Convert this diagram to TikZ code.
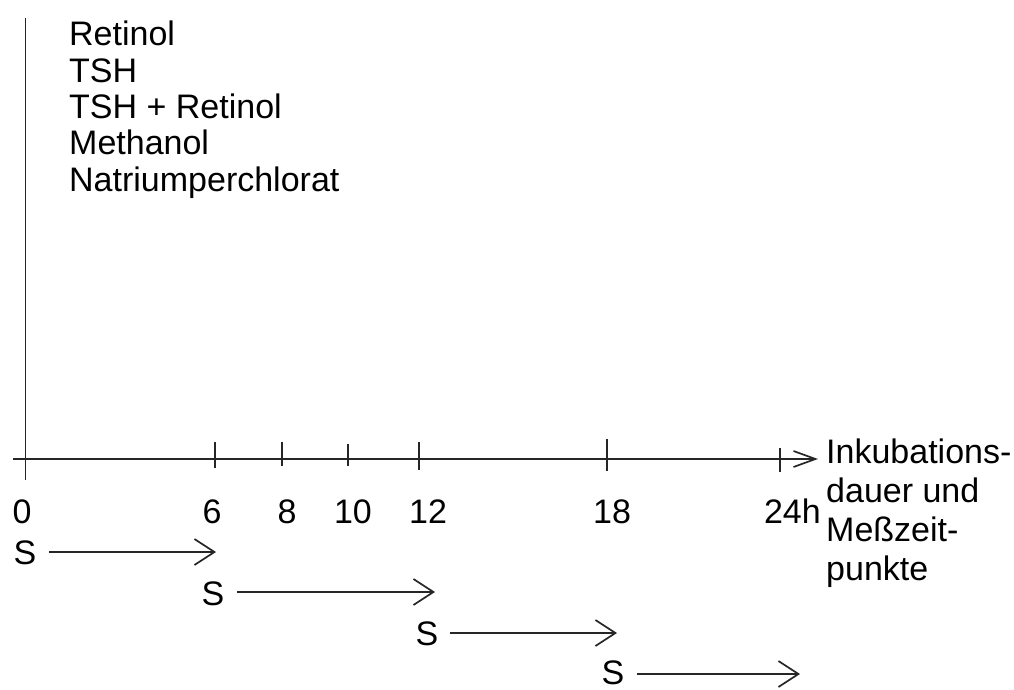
\documentclass[tikz,border=0pt]{standalone}
\usepackage{fontspec}
\setmainfont{Liberation Sans}
\usetikzlibrary{arrows.meta}
\begin{document}
\begin{tikzpicture}[x=1pt,y=-1pt,
  lbl/.style={font=\fontsize{34}{36}\selectfont, inner sep=0pt},
  axisline/.style={line width=1.9pt, black!85},
  tickline/.style={line width=1.9pt, black!85},
  sarrow/.style={line width=1.9pt, black!85, -{Straight Barb[length=20pt,width=26pt,line width=1.7pt]}},
  axarrow/.style={line width=1.9pt, black!85, -{Straight Barb[length=22pt,width=16pt,line width=1.7pt]}}]
\useasboundingbox (0,0) rectangle (1014,689);
% axes
\coordinate (ytop) at (25.5,18);
\coordinate (ybot) at (25.5,480);
\coordinate (xstart) at (13,459);
\coordinate (xend) at (818,459);
\draw[axisline] (ytop) -- (ybot);
\draw[axarrow] (xstart) -- (xend);
% ticks
\foreach \n/\x/\a/\b in {t6/215/442/468, t8/282/442/466, t10/348/444/466, t12/419/442/470, t18/607/439/471, t24/780/448/472}{
  \coordinate (\n a) at (\x,\a);
  \coordinate (\n b) at (\x,\b);
  \draw[tickline] (\n a) -- (\n b);
}
% tick labels
\node[lbl, anchor=base] (n0) at (22,523) {0};
\node[lbl, anchor=base] (n6) at (212,523) {6};
\node[lbl, anchor=base] (n8) at (287,523) {8};
\node[lbl, anchor=base] (n10) at (353,523) {10};
\node[lbl, anchor=base] (n12) at (428,523) {12};
\node[lbl, anchor=base] (n18) at (612,523) {18};
\node[lbl, anchor=base east] (n24) at (821,523) {24h};
% list
\node[lbl, anchor=base west] (l1) at (69,45) {Retinol};
\node[lbl, anchor=base west] (l2) at (69,82) {TSH};
\node[lbl, anchor=base west] (l3) at (69,118) {TSH + Retinol};
\node[lbl, anchor=base west] (l4) at (69,154) {Methanol};
\node[lbl, anchor=base west] (l5) at (69,191) {Natriumperchlorat};
% axis label
\node[lbl, anchor=base west] (r1) at (826,463) {Inkubations-};
\node[lbl, anchor=base west] (r2) at (826,502) {dauer und};
\node[lbl, anchor=base west] (r3) at (826,541) {Meßzeit-};
\node[lbl, anchor=base west] (r4) at (826,580) {punkte};
% S arrows
\node[lbl, anchor=base] (s1) at (25,564) {S};
\coordinate (s1a) at (49,552);
\coordinate (s1b) at (216,552);
\draw[sarrow] (s1a) -- (s1b);
\node[lbl, anchor=base] (s2) at (213,605) {S};
\coordinate (s2a) at (237,592);
\coordinate (s2b) at (435,592);
\draw[sarrow] (s2a) -- (s2b);
\node[lbl, anchor=base] (s3) at (427,645) {S};
\coordinate (s3a) at (450,633);
\coordinate (s3b) at (617,633);
\draw[sarrow] (s3a) -- (s3b);
\node[lbl, anchor=base] (s4) at (613,684) {S};
\coordinate (s4a) at (637,674);
\coordinate (s4b) at (800,674);
\draw[sarrow] (s4a) -- (s4b);
\end{tikzpicture}
\end{document}
